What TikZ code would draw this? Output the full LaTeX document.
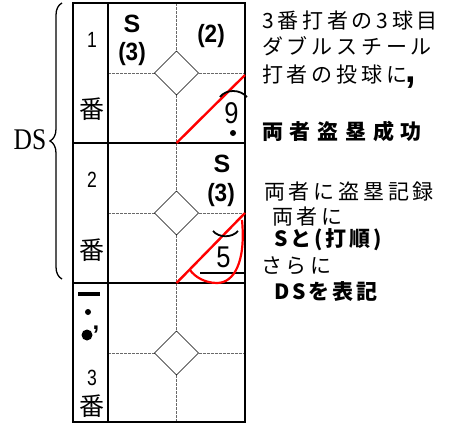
\documentclass[tikz,border=0pt]{standalone}
\usepackage{fontspec}
\setmainfont{Noto Sans CJK JP}
\newfontfamily\latinsf{Liberation Sans}
\newfontfamily\latinrm{Liberation Serif}
\usetikzlibrary{decorations.pathreplacing}
\definecolor{scred}{RGB}{255,0,0}
\definecolor{scgray}{RGB}{105,105,105}
\tikzset{
  frame/.style={line width=1.6pt},
  guide/.style={scgray,line width=.9pt,dash pattern=on 3pt off 1pt},
  base/.style={thin,line width=.6pt},
  runline/.style={scred,line width=2.4pt},
  arcline/.style={line width=1.8pt},
  notebox/.style={anchor=west,inner sep=0pt,text height=17.5pt,text depth=1.5pt},
  note/.style={notebox,font=\fontsize{21}{24}\selectfont\addfontfeature{LetterSpace=18}},
  notebold/.style={notebox,font=\fontsize{21}{24}\selectfont\bfseries\addfontfeature{LetterSpace=32}},
  shortbold/.style={notebox,font=\fontsize{21}{24}\selectfont\bfseries\addfontfeature{LetterSpace=14}},
  order/.style={inner sep=0pt,font=\latinsf\fontsize{22}{24}\selectfont,xscale=.8},
  ban/.style={inner sep=0pt,font=\fontsize{25}{27}\selectfont},
  steal/.style={inner sep=0pt,font=\latinsf\bfseries\fontsize{25}{27}\selectfont},
  count/.style={inner sep=0pt,font=\latinsf\bfseries\fontsize{25}{27}\selectfont,xscale=.9},
  fielder/.style={inner sep=0pt,font=\latinsf\fontsize{30}{30}\selectfont,xscale=.85},
  ballmark/.style={inner sep=0pt,font=\latinsf\bfseries\fontsize{24}{24}\selectfont}
}
\newcommand\pitchcomma{\smash{\latinsf\bfseries\fontsize{38}{38}\selectfont\kern-2pt,}}
\begin{document}
\begin{tikzpicture}[x=1pt,y=-1pt]
  \useasboundingbox (0,0) rectangle (453,423);
  % cells: guides and diamonds
  \foreach \r in {0,1,2}{
    \pgfmathsetmacro{\t}{3+140*\r}
    \pgfmathsetmacro{\m}{\t+70}
    \draw[guide] (108,\m) -- (154.5,\m);
    \draw[guide] (198.5,\m) -- (245,\m);
    \draw[guide] (176.5,\t) -- (176.5,\m-22);
    \draw[guide] (176.5,\m+22) -- (176.5,\t+140);
    \draw[base] (176.5,\m-22) -- (198.5,\m) -- (176.5,\m+22) -- (154.5,\m) -- cycle;
  }
  % frame
  \draw[frame] (73,3) rectangle (245,422);
  \draw[frame] (108,3) -- (108,422);
  \draw[frame] (73,143) -- (245,143);
  \draw[frame] (73,283) -- (245,283);
  % batting order column
  \node[order] (n1) at (92,40) {1};
  \node[ban] (b1) at (92,109) {番};
  \node[order] (n2) at (92,180) {2};
  \node[ban] (b2) at (92,250) {番};
  \node[order] (n3) at (92,378) {3};
  \node[ban] (b3) at (92,406) {番};
  % pitch marks of batter 3
  \fill (78,292) rectangle (100,296);
  \fill (88,312) circle (3);
  \fill (87,335) circle (5.5);
  \node[ballmark] (c2) at (96,329) {\smash{,}};
  % batter 1
  \node[steal] (s1) at (132,24) {S};
  \node[count] (p1) at (132,54) {(3)};
  \node[count] (p2) at (211,36) {(2)};
  \draw[runline] (176.5,143) -- (245,75);
  \draw[arcline] (220,97) .. controls (226,89) and (240,89) .. (247,97);
  \node[fielder] (f9) at (231.5,113) {9};
  \fill (233,133) circle (3);
  % batter 2
  \node[steal] (s2) at (222,164) {S};
  \node[count] (p3) at (221,195) {(3)};
  \draw[runline] (176.5,283) -- (245,213);
  \draw[arcline] (213,231) .. controls (219,238) and (232,238) .. (238,231);
  \node[fielder] (f5) at (223.5,257) {5};
  \draw[line width=2pt] (200,273) -- (244,273);
  \draw[scred,line width=2.2pt] (242,220) .. controls (246,262) and (234,283) .. (217,283)
    .. controls (205,283) and (195,277) .. (190,270);
  % double steal brace
  \draw[line width=1.3pt,decorate,decoration={brace,amplitude=12pt}] (62,279) -- (62,3);
  \node[inner sep=0pt,font=\latinrm\fontsize{30}{30}\selectfont,xscale=.85] (ds) at (30,140) {DS};
  % notes
  \node[note] (t1) at (262,20) {3番打者の3球目};
  \node[note] (t2) at (262,46) {ダブルスチール};
  \node[note] (t3) at (262,74) {打者の投球に\pitchcomma};
  \node[notebold] (t4) at (262,131) {両者盗塁成功};
  \node[note] (t5) at (264,191) {両者に盗塁記録};
  \node[note] (t6) at (272,216) {両者に};
  \node[shortbold] (t7) at (274,238) {Sと(打順)};
  \node[note] (t8) at (261,265) {さらに};
  \node[shortbold] (t9) at (274,291) {DSを表記};
\end{tikzpicture}
\end{document}
